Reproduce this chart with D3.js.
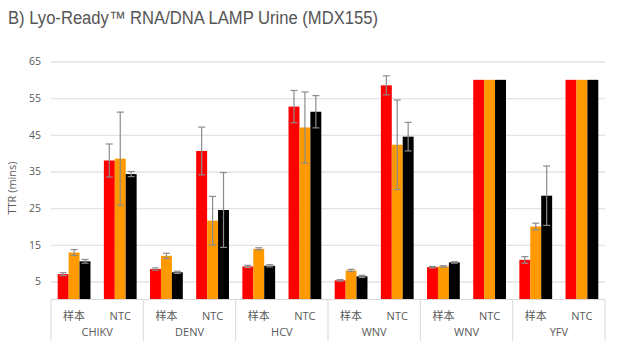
<!DOCTYPE html>
<html>
<head>
<meta charset="utf-8">
<script src="https://cdn.jsdelivr.net/npm/d3@7"></script>
<style>
  body { margin: 0; background: #fff; }
  svg { display: block; }
</style>
</head>
<body>
<div id="chart"></div>
<script>
const groups = ["CHIKV", "DENV", "HCV", "WNV", "WNV", "YFV"];
const subs = ["样本", "NTC"];
const seriesNames = ["s1", "s2", "s3"];
const seriesColors = ["#ff0000", "#ff9900", "#000000"];
const s1 = [7.0, 38.0, 8.4, 40.6, 9.1, 52.7, 5.3, 58.5, 8.9, 60, 10.9, 60];
const s2 = [12.9, 38.5, 12.0, 21.6, 13.9, 47.0, 8.0, 42.3, 9.1, 60, 20.0, 60];
const s3 = [10.5, 34.3, 7.5, 24.5, 9.3, 51.3, 6.4, 44.5, 10.2, 60, 28.4, 60];
const e1 = [0.4, 4.5, 0.3, 6.5, 0.3, 4.4, 0.2, 2.6, 0.2, 0, 0.9, 0];
const e2 = [0.8, 12.7, 0.7, 6.6, 0.3, 9.7, 0.3, 12.2, 0.2, 0, 0.9, 0];
const e3 = [0.5, 0.7, 0.3, 10.2, 0.3, 4.4, 0.3, 3.9, 0.2, 0, 8.1, 0];
const yTicks = [5, 15, 25, 35, 45, 55, 65];

const width = 622, height = 352;
const m = {left: 51, right: 605, top: 61.5, bottom: 298};

// one category per group/sub pair
const cats = [];
groups.forEach((g, gi) => subs.forEach(s => cats.push(gi + "|" + s)));
const values = [s1, s2, s3];
const errs = [e1, e2, e3];

const svg = d3.select("#chart").append("svg")
	.attr("width", width)
	.attr("height", height);

svg.append("text")
	.attr("x", 8)
	.attr("y", 24)
	.attr("fill", "#555")
	.attr("textLength", 370)
	.attr("lengthAdjust", "spacingAndGlyphs")
	.style("font", "18px 'Liberation Sans', Arial, sans-serif")
	.text("B) Lyo-Ready™ RNA/DNA LAMP Urine (MDX155)");

const x = d3.scaleBand()
	.domain(cats)
	.range([m.left, m.right])
	.paddingInner(0.29)
	.paddingOuter(0.145);

const xs = d3.scaleBand()
	.domain(seriesNames)
	.range([0, x.bandwidth()]);

const y = d3.scaleLinear()
	.domain([0.5, 65])
	.range([m.bottom, m.top]);

// gridlines + tick labels
const yAxis = d3.axisLeft(y)
	.tickValues(yTicks)
	.tickSize(-(m.right - m.left))
	.tickPadding(10);

svg.append("g")
	.attr("transform", `translate(${m.left},0)`)
	.call(yAxis)
	.call(g => g.select(".domain").remove())
	.call(g => g.selectAll(".tick line").attr("stroke", "#e3e3e3").attr("stroke-width", 1.3))
	.call(g => g.selectAll(".tick text")
		.attr("fill", "#595959")
		.style("font", "10.5px 'Open Sans', sans-serif"));

svg.append("text")
	.attr("transform", "translate(16,188) rotate(-90)")
	.attr("text-anchor", "middle")
	.attr("fill", "#595959")
	.style("font", "11px 'Open Sans', sans-serif")
	.text("TTR (mins)");

// bars
const barData = [];
cats.forEach((c, i) => seriesNames.forEach((s, k) => {
	barData.push({c, s, k, v: values[k][i], e: errs[k][i]});
}));

svg.append("g")
	.selectAll("rect")
	.data(barData)
	.join("rect")
	.attr("x", d => x(d.c) + xs(d.s))
	.attr("y", d => y(d.v))
	.attr("width", xs.bandwidth())
	.attr("height", d => m.bottom + 1 - y(d.v))
	.attr("fill", d => seriesColors[d.k]);

// error bars
const eb = svg.append("g")
	.attr("stroke", "#8c8c8c")
	.attr("stroke-width", 1.2)
	.selectAll("g")
	.data(barData.filter(d => d.e > 0))
	.join("g")
	.attr("transform", d => `translate(${x(d.c) + xs(d.s) + xs.bandwidth() / 2},0)`);

eb.append("line")
	.attr("y1", d => y(d.v + d.e))
	.attr("y2", d => y(d.v - d.e));
eb.append("line")
	.attr("x1", -3.5).attr("x2", 3.5)
	.attr("y1", d => y(d.v + d.e))
	.attr("y2", d => y(d.v + d.e));
eb.append("line")
	.attr("x1", -3.5).attr("x2", 3.5)
	.attr("y1", d => y(d.v - d.e))
	.attr("y2", d => y(d.v - d.e));

// category axis box
svg.append("line")
	.attr("x1", m.left).attr("x2", m.right)
	.attr("y1", m.bottom + 1.5).attr("y2", m.bottom + 1.5)
	.attr("stroke", "#d9d9d9");

const groupW = (m.right - m.left) / groups.length;
svg.append("g")
	.selectAll("line")
	.data(d3.range(groups.length + 1))
	.join("line")
	.attr("x1", i => m.left + i * groupW)
	.attr("x2", i => m.left + i * groupW)
	.attr("y1", m.bottom + 1.5)
	.attr("y2", 341)
	.attr("stroke", "#d9d9d9");

svg.append("g")
	.selectAll("text")
	.data(cats)
	.join("text")
	.attr("x", c => x(c) + x.bandwidth() / 2)
	.attr("y", 320)
	.attr("text-anchor", "middle")
	.attr("fill", "#595959")
	.style("font", "11px 'Open Sans', 'Noto Sans CJK SC', sans-serif")
	.text(c => c.split("|")[1]);

svg.append("g")
	.selectAll("text")
	.data(groups)
	.join("text")
	.attr("x", (g, i) => m.left + (i + 0.5) * groupW)
	.attr("y", 336)
	.attr("text-anchor", "middle")
	.attr("fill", "#595959")
	.style("font", "11px 'Open Sans', sans-serif")
	.text(g => g);
</script>
</body>
</html>
